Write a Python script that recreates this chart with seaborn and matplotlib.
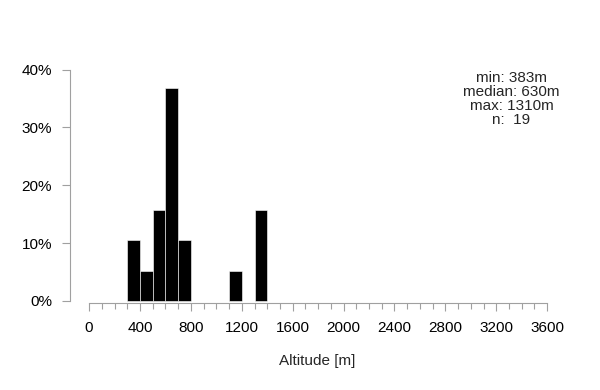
import matplotlib
matplotlib.use("Agg")
import matplotlib.pyplot as plt
from matplotlib.ticker import FuncFormatter, FixedLocator
import seaborn as sns

# bin lower edges (m) and counts (bin width 100 m)
bin_starts = [300, 400, 500, 600, 700, 1100, 1300]
counts = [2, 1, 3, 7, 2, 1, 3]
bin_edges = list(range(0, 3700, 100))

x_ticks = list(range(0, 3700, 400))
y_ticks = [0, 10, 20, 30, 40]
stats_text = "min: 383m\nmedian: 630m\nmax: 1310m\nn:  19"

sns.set_style("white")
plt.rcParams["font.family"] = ["Liberation Sans", "DejaVu Sans"]

fig = plt.figure(figsize=(6, 3.9), dpi=100)
ax = fig.add_axes([70 / 600, 1 - 303 / 390, (565 - 70) / 600, (303 - 58) / 390])

sns.histplot(x=[b + 50 for b in bin_starts], weights=counts, bins=bin_edges,
             stat="percent", color="black", edgecolor="white", linewidth=0.4,
             alpha=1, ax=ax)

ax.set_xlim(-150, 3740)
ax.set_ylim(-0.35, 42)

for s in ["top", "right"]:
    ax.spines[s].set_visible(False)
ax.spines["left"].set_bounds(0, 40)
ax.spines["bottom"].set_bounds(0, 3600)
for s in ["left", "bottom"]:
    ax.spines[s].set_color("#a0a0a0")
    ax.spines[s].set_linewidth(0.8)

ax.set_xticks(x_ticks)
ax.xaxis.set_minor_locator(FixedLocator(bin_edges))
ax.set_yticks(y_ticks)
ax.yaxis.set_major_formatter(FuncFormatter(lambda v, p: f"{v:.0f}%"))
ax.tick_params(axis="both", which="major", length=6, width=0.8, color="#a0a0a0",
               labelsize=11, labelcolor="black", direction="out")
ax.tick_params(axis="x", which="minor", length=4, width=0.8, color="#a0a0a0",
               direction="out")
ax.tick_params(axis="x", which="major", pad=7)
ax.tick_params(axis="y", which="major", pad=7)
ax.tick_params(bottom=True, left=True)
ax.tick_params(axis="x", which="minor", bottom=True)

ax.set_ylabel("")
ax.set_xlabel("Altitude [m]", fontsize=11, labelpad=14)

ax.text(3320, 39.8, stats_text, ha="center", va="top", fontsize=11,
        linespacing=1.0)

fig.savefig("out.png", dpi=100)
